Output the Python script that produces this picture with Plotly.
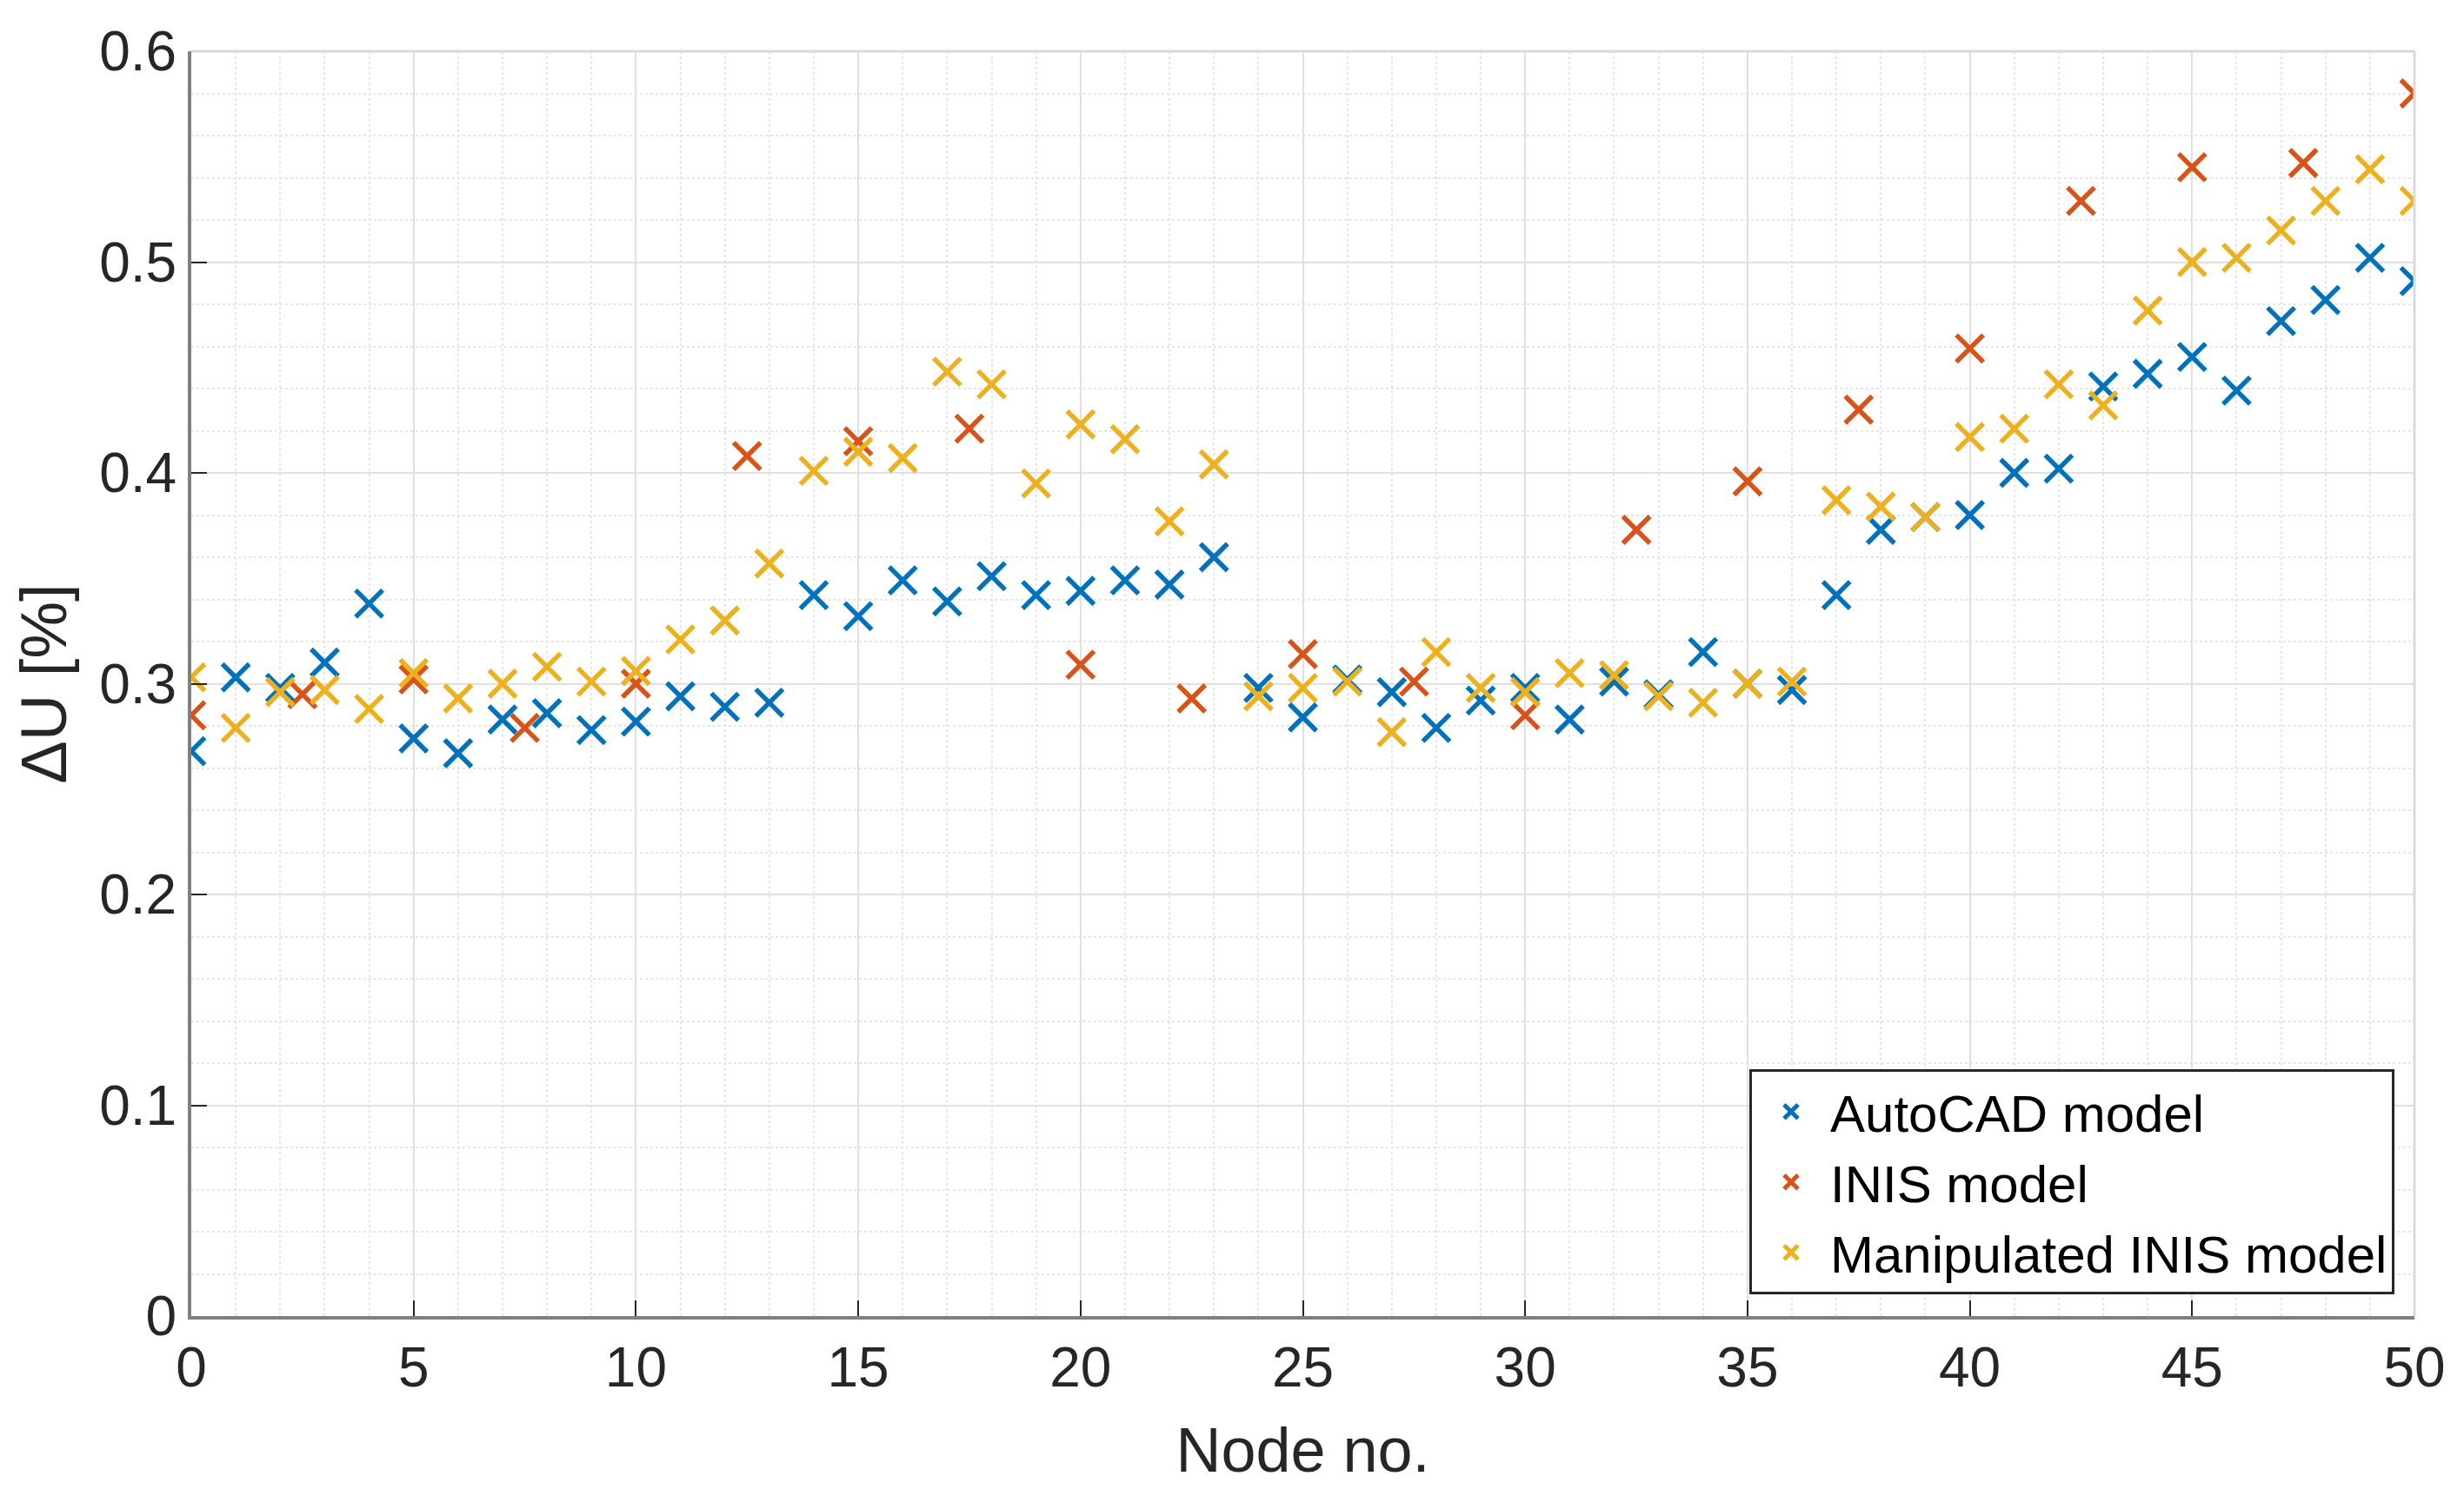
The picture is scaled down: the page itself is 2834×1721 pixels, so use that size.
import plotly.graph_objects as go

node_all = list(range(0, 51))
autocad = [0.268, 0.303, 0.298, 0.310, 0.338, 0.274, 0.267, 0.283, 0.286, 0.278,
           0.282, 0.294, 0.289, 0.291, 0.342, 0.332, 0.349, 0.339, 0.351, 0.342,
           0.344, 0.349, 0.347, 0.360, 0.298, 0.284, 0.302, 0.296, 0.279, 0.292,
           0.298, 0.283, 0.301, 0.295, 0.315, 0.300, 0.297, 0.342, 0.373, 0.379,
           0.380, 0.400, 0.402, 0.441, 0.447, 0.455, 0.439, 0.472, 0.482, 0.502,
           0.491]

node_inis = [0, 2.5, 5, 7.5, 10, 12.5, 15, 17.5, 20, 22.5, 25, 27.5, 30, 32.5,
             35, 37.5, 40, 42.5, 45, 47.5, 50]
inis = [0.285, 0.295, 0.302, 0.279, 0.300, 0.408, 0.415, 0.421, 0.309, 0.293,
        0.314, 0.301, 0.285, 0.373, 0.396, 0.430, 0.459, 0.529, 0.545, 0.547,
        0.580]

manip = [0.303, 0.279, 0.296, 0.297, 0.288, 0.305, 0.293, 0.300, 0.308, 0.301,
         0.306, 0.321, 0.330, 0.357, 0.401, 0.410, 0.407, 0.448, 0.442, 0.395,
         0.423, 0.416, 0.377, 0.404, 0.294, 0.298, 0.301, 0.277, 0.315, 0.298,
         0.296, 0.305, 0.304, 0.294, 0.291, 0.300, 0.301, 0.387, 0.384, 0.379,
         0.417, 0.421, 0.442, 0.432, 0.477, 0.500, 0.502, 0.515, 0.529, 0.544,
         0.529]

x_ticks = list(range(0, 51, 5))
y_ticks = [0, 0.1, 0.2, 0.3, 0.4, 0.5, 0.6]
y_tick_text = ["0", "0.1", "0.2", "0.3", "0.4", "0.5", "0.6"]

series = [
    ("AutoCAD model", node_all, autocad, "#0072BD"),
    ("INIS model", node_inis, inis, "#D95319"),
    ("Manipulated INIS model", node_all, manip, "#EDB120"),
]

fig = go.Figure()
for name, xs, ys, col in series:
    fig.add_trace(go.Scatter(
        x=xs, y=ys, mode="markers", name=name,
        marker=dict(symbol="x-thin-open", size=31, color=col,
                    line=dict(color=col, width=5.5)),
    ))

font = "Liberation Sans, Arial, sans-serif"
fig.update_layout(
    width=2834, height=1721,
    margin=dict(l=212, r=65, t=51, b=215),
    paper_bgcolor="white", plot_bgcolor="white",
    font=dict(family=font, size=64, color="#262626"),
    showlegend=True,
    legend=dict(
        x=0.991, y=0.017, xanchor="right", yanchor="bottom",
        bgcolor="white", bordercolor="#262626", borderwidth=3,
        font=dict(size=60, color="#000000"),
        itemsizing="trace", tracegroupgap=0, itemwidth=80,
    ),
    xaxis=dict(
        range=[0, 50], tickvals=x_ticks, ticks="inside", ticklen=18,
        tickwidth=2, tickcolor="#262626",
        showline=True, linecolor="#808080", linewidth=4,
        showgrid=True, gridcolor="#e0e0e0", gridwidth=2,
        zeroline=False,
        minor=dict(dtick=1, showgrid=True, gridcolor="#e6e6e6",
                   griddash="dot", gridwidth=2),
        title=dict(text="Node no.", font=dict(size=72), standoff=36),
        tickfont=dict(size=64),
    ),
    yaxis=dict(
        range=[0, 0.6], tickvals=y_ticks, ticktext=y_tick_text,
        ticks="inside", ticklen=18, tickwidth=2, tickcolor="#262626",
        showline=True, linecolor="#808080", linewidth=4,
        showgrid=True, gridcolor="#e0e0e0", gridwidth=2,
        zeroline=False,
        minor=dict(dtick=0.02, showgrid=True, gridcolor="#e6e6e6",
                   griddash="dot", gridwidth=2),
        title=dict(text="ΔU [%]", font=dict(size=74), standoff=14),
        tickfont=dict(size=64),
    ),
)

# light box on top and right
fig.add_shape(type="line", xref="paper", yref="paper", x0=0, x1=1, y0=1, y1=1,
              line=dict(color="#d9d9d9", width=3))
fig.add_shape(type="line", xref="paper", yref="paper", x0=1, x1=1, y0=0, y1=1,
              line=dict(color="#d9d9d9", width=3))

fig.write_html("out.html")
